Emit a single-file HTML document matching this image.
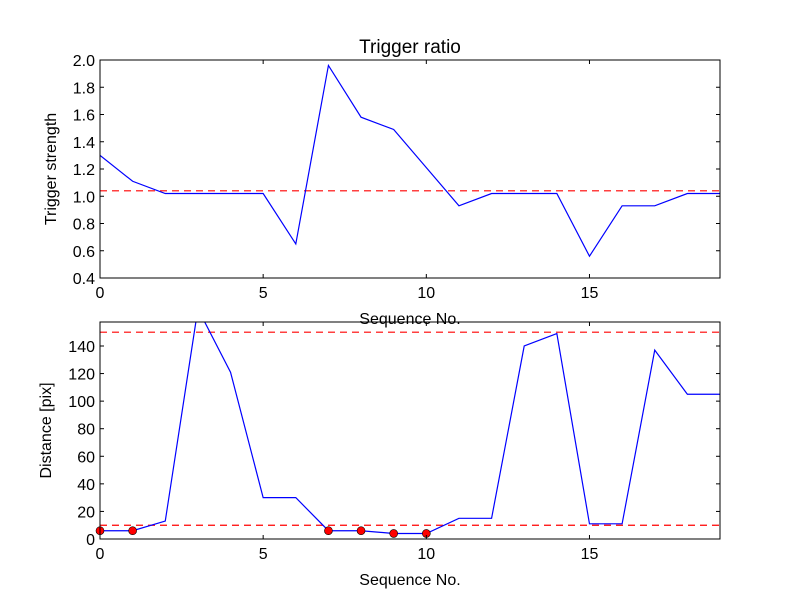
<!DOCTYPE html>
<html><head><meta charset="utf-8"><style>
body{margin:0;background:#fff}
svg{display:block;font-family:"Liberation Sans",sans-serif}
</style></head><body>
<svg id="c" width="800" height="600" viewBox="0 0 800 600">
<rect width="800" height="600" fill="#fff"/>
</svg>
<script>
const seq = [0,1,2,3,4,5,6,7,8,9,10,11,12,13,14,15,16,17,18,19];
const ratio = [1.30,1.11,1.02,1.02,1.02,1.02,0.65,1.96,1.58,1.49,1.21,0.93,1.02,1.02,1.02,0.56,0.93,0.93,1.02,1.02];
const ratioThreshold = [1.04];
const dist = [6,6,13,167,121,30,30,6,6,4,4,15,15,140,149,11,11,137,105,105];
const distThresholds = [150,10];
const markedIdx = [0,1,7,8,9,10];
const xTicks = [0,5,10,15];
const ratioTicks = [0.4,0.6,0.8,1.0,1.2,1.4,1.6,1.8,2.0];
const distTicks = [0,20,40,60,80,100,120,140];

const NS="http://www.w3.org/2000/svg";
const svg=document.getElementById('c');
function mk(tag,attrs,parent){const e=document.createElementNS(NS,tag);for(const k in attrs)e.setAttribute(k,attrs[k]);(parent||svg).appendChild(e);return e;}

function panel(cfg){
  const {x0,x1,y0,y1,ymin,ymax,name}=cfg;
  const sx=v=>x0+(v-0)/(19-0)*(x1-x0);
  const sy=v=>y1-(v-ymin)/(ymax-ymin)*(y1-y0);
  const g=mk('g',{});
  
  
  const cid='clip-'+name;
  const cp=mk('clipPath',{id:cid},g);mk('rect',{x:x0,y:y0,width:x1-x0,height:y1-y0},cp);
  const inner=mk('g',{'clip-path':'url(#'+cid+')'},g);
  cfg.thresholds.forEach(t=>{
    const l=mk('line',{x1:x0,x2:x1,y1:sy(t),y2:sy(t),stroke:'#ff0000','stroke-width':1.2,'stroke-dasharray':'7,5'},inner);
    
    
  });
  const p=mk('polyline',{points:cfg.vals.map((v,i)=>sx(seq[i])+','+sy(v)).join(' '),fill:'none',stroke:'#0000ff','stroke-width':1.2},inner);
  
  
  (cfg.marks||[]).forEach(i=>{
    const c=mk('circle',{cx:sx(seq[i]),cy:sy(cfg.vals[i]),r:4,fill:'#ff0000',stroke:'#000','stroke-width':0.6},g);
    
    
  });
  const fr=mk('rect',{x:x0,y:y0,width:x1-x0,height:y1-y0,fill:'none',stroke:'#000','stroke-width':1},g);
  
  
  xTicks.forEach(t=>{
    const x=sx(t);
    mk('line',{x1:x,x2:x,y1:y1,y2:y1-4,stroke:'#000'},g);
    mk('line',{x1:x,x2:x,y1:y0,y2:y0+4,stroke:'#000'},g);
    const tx=mk('text',{x:x,y:y1+20,'text-anchor':'middle','font-size':16},g);
    tx.textContent=t;
    
    
  });
  cfg.yticks.forEach(t=>{
    const y=sy(t);
    mk('line',{x1:x0,x2:x0+4,y1:y,y2:y,stroke:'#000'},g);
    mk('line',{x1:x1,x2:x1-4,y1:y,y2:y,stroke:'#000'},g);
    const tx=mk('text',{x:x0-5,y:y+6,'text-anchor':'end','font-size':16},g);
    tx.textContent=cfg.fmt(t);
    
    
  });
  const xl=mk('text',{x:(x0+x1)/2,y:y1+46,'text-anchor':'middle','font-size':16},g);
  xl.textContent='Sequence No.';
  
  
  const yl=mk('text',{x:0,y:0,'text-anchor':'middle','font-size':16,transform:'translate('+cfg.ylx+','+((y0+y1)/2)+') rotate(-90)'},g);
  yl.textContent=cfg.ylabel;
  
  
}
panel({name:'trigger-ratio-panel',x0:100,x1:720,y0:60,y1:278,ymin:0.4,ymax:2.0,vals:ratio,thresholds:ratioThreshold,yticks:ratioTicks,fmt:v=>v.toFixed(1),ylabel:'Trigger strength',ylx:56});
panel({name:'distance-panel',x0:100,x1:720,y0:322,y1:539,ymin:0,ymax:157.4,vals:dist,thresholds:distThresholds,yticks:distTicks,fmt:v=>String(v),ylabel:'Distance [pix]',ylx:51,marks:markedIdx});
const title=mk('text',{x:410,y:53,'text-anchor':'middle','font-size':19});
title.textContent='Trigger ratio';


</script>
</body></html>
